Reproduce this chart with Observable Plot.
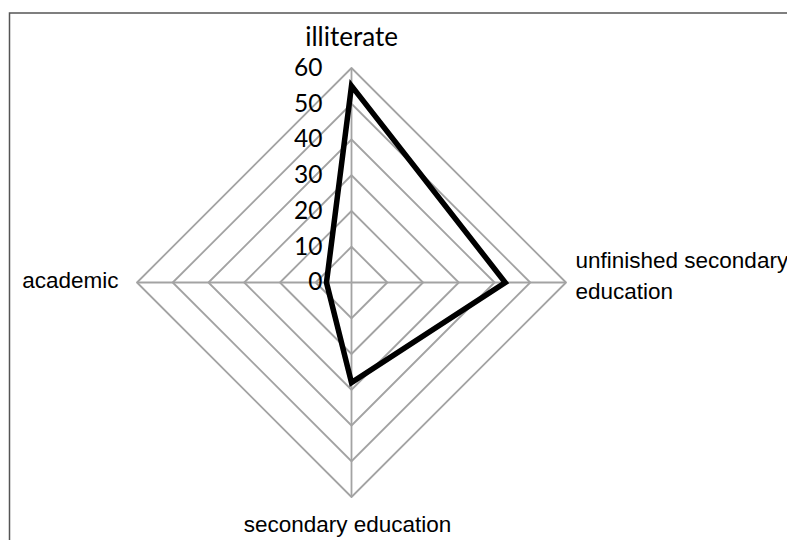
<!DOCTYPE html>
<html>
<head>
<meta charset="utf-8">
<script src="https://cdn.jsdelivr.net/npm/d3@7"></script>
<script src="https://cdn.jsdelivr.net/npm/@observablehq/plot@0.6"></script>
<style>
  html, body { margin: 0; padding: 0; background: #fff; }
  #chart { width: 787px; height: 540px; }
</style>
</head>
<body>
<div id="chart"></div>
<script>
// Data
const categories = ["illiterate", "unfinished secondary\neducation", "secondary education", "academic"];
const values = [55, 43, 28, 7];
const tickValues = [0, 10, 20, 30, 40, 50, 60];
const maxValue = 60;

// Angles: top, right, bottom, left (clockwise from top)
const angles = categories.map((_, i) => (i * 2 * Math.PI) / categories.length);
const px = (v, i) => v * Math.sin(angles[i]);
const py = (v, i) => v * Math.cos(angles[i]);

const series = values.map((v, i) => ({ cat: categories[i], x: px(v, i), y: py(v, i) }));

const rings = [];
tickValues.filter(t => t > 0).forEach(t => {
  categories.forEach((c, i) => rings.push({ level: t, x: px(t, i), y: py(t, i) }));
});

const spokes = categories.map((c, i) => ({ x1: 0, y1: 0, x2: px(maxValue, i), y2: py(maxValue, i) }));

const tickLabels = tickValues.map(t => ({ t, x: 0, y: t }));

const W = 787, H = 540;
const cx = 351, cy = 282, R = 214.5;
const sans = "Liberation Sans, Arial, sans-serif";

const plot = Plot.plot({
  width: W,
  height: H,
  marginLeft: cx - R,
  marginRight: W - (cx + R),
  marginTop: cy - R,
  marginBottom: H - (cy + R),
  x: { domain: [-maxValue, maxValue], axis: null },
  y: { domain: [-maxValue, maxValue], axis: null },
  style: { background: "#fff" },
  marks: [
    Plot.link(spokes, { x1: "x1", y1: "y1", x2: "x2", y2: "y2", stroke: "#a3a3a3", strokeWidth: 1.8 }),
    Plot.line(rings, { x: "x", y: "y", z: "level", curve: "linear-closed", stroke: "#a3a3a3", strokeWidth: 1.8 }),
    Plot.line(series, { x: "x", y: "y", curve: "linear-closed", stroke: "#000", strokeWidth: 5.5, strokeLinejoin: "miter", strokeMiterlimit: 10 }),
    Plot.text(tickLabels, { x: "x", y: "y", text: d => String(d.t), textAnchor: "end", lineAnchor: "middle", dx: -29, dy: 0, fontSize: 24.5, fontFamily: "Lato", fill: "#000" }),
    // category labels
    Plot.text([series[0]], { x: () => px(maxValue, 0), y: () => py(maxValue, 0), text: "cat", textAnchor: "middle", lineAnchor: "middle", dy: -30, fontSize: 26, fontFamily: "Lato", fill: "#000" }),
    Plot.text([series[1]], { x: () => px(maxValue, 1), y: () => py(maxValue, 1), text: "cat", textAnchor: "start", lineAnchor: "middle", lineHeight: 1.36, dx: 9.5, dy: -9, fontSize: 22.5, fontFamily: sans, fill: "#000" }),
    Plot.text([series[2]], { x: () => px(maxValue, 2), y: () => py(maxValue, 2), text: "cat", textAnchor: "middle", lineAnchor: "middle", dx: -4, dy: 28, fontSize: 22.5, fontFamily: sans, fill: "#000" }),
    Plot.text([series[3]], { x: () => px(maxValue, 3), y: () => py(maxValue, 3), text: "cat", textAnchor: "end", lineAnchor: "middle", dx: -18.5, dy: -2, fontSize: 22.5, fontFamily: sans, fill: "#000" })
  ]
});

// outer chart frame (decorative border, cropped at right and bottom)
d3.select(plot).append("path")
  .attr("d", `M9.5,${H + 5}V13H${W + 5}`)
  .attr("fill", "none")
  .attr("stroke", "#555")
  .attr("stroke-width", 1.5);

document.getElementById("chart").appendChild(plot);
</script>
</body>
</html>
